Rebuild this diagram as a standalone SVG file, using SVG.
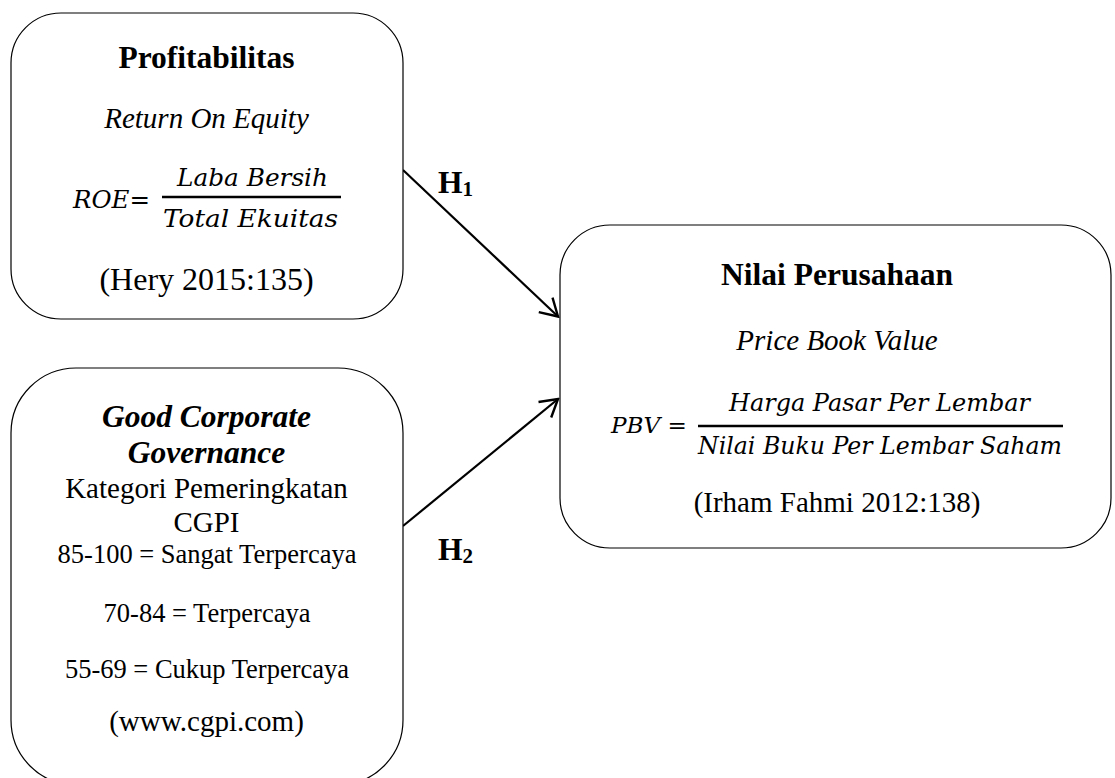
<svg xmlns="http://www.w3.org/2000/svg" width="1115" height="778" viewBox="0 0 1115 778">
<style>
.box{fill:#fff;stroke:#000;stroke-width:1.2}
.t{font-family:"Liberation Serif","Times New Roman",serif;fill:#000;text-anchor:middle}
.b{font-weight:bold;font-size:31.5px}
.i{font-style:italic;font-size:29px}
.r{font-size:29px}
.s{font-size:26.5px}
.m{font-family:"DejaVu Serif",serif;font-style:italic;fill:#000}
.frac{stroke:#000;stroke-width:2.6}
.conn{stroke:#000;stroke-width:2.2;fill:none}
.h{font-family:"Liberation Serif","Times New Roman",serif;font-weight:bold;fill:#000}
</style>
<defs>
<marker id="arr" markerUnits="userSpaceOnUse" viewBox="-20 -12 22 24" refX="0" refY="0" markerWidth="22" markerHeight="24" orient="auto">
<path d="M-17,-10 L0,0 L-17,10" fill="none" stroke="#000" stroke-width="2.4"/>
</marker>
</defs>
<g id="connectors">
<line class="conn" x1="403" y1="170" x2="558" y2="316.5" marker-end="url(#arr)"/>
<line class="conn" x1="403" y1="526" x2="558" y2="399" marker-end="url(#arr)"/>
<text class="h" x="438" y="193" font-size="31.5">H<tspan font-size="21" dy="3">1</tspan></text>
<text class="h" x="438" y="560" font-size="31.5">H<tspan font-size="21" dy="3">2</tspan></text>
</g>
<g id="profitabilitas">
<rect class="box" x="11" y="13" width="392" height="306" rx="50" ry="50"/>
<text class="t b" x="206.5" y="68">Profitabilitas</text>
<text class="t i" x="206.5" y="128">Return On Equity</text>
<text class="m" x="73" y="208" font-size="24" textLength="77" lengthAdjust="spacingAndGlyphs">ROE<tspan font-style="normal">=</tspan></text>
<text class="m" x="177" y="186" font-size="24" textLength="151" lengthAdjust="spacingAndGlyphs">Laba Bersih</text>
<line class="frac" x1="162" y1="197" x2="341" y2="197"/>
<text class="m" x="163" y="227" font-size="24" textLength="175" lengthAdjust="spacingAndGlyphs">Total Ekuitas</text>
<text class="t" x="206.5" y="290" font-size="32">(Hery 2015:135)</text>
</g>
<g id="gcg">
<rect class="box" x="11" y="368" width="392" height="417" rx="65" ry="65"/>
<text class="t b" x="206.5" y="427" font-style="italic">Good Corporate</text>
<text class="t b" x="206.5" y="463" font-style="italic">Governance</text>
<text class="t r" x="206.5" y="498">Kategori Pemeringkatan</text>
<text class="t r" x="206.5" y="532">CGPI</text>
<text class="t s" x="207" y="563">85-100 = Sangat Terpercaya</text>
<text class="t s" x="207" y="622">70-84 = Terpercaya</text>
<text class="t s" x="207" y="678">55-69 = Cukup Terpercaya</text>
<text class="t r" x="206.5" y="731">(www.cgpi.com)</text>
</g>
<g id="nilai">
<rect class="box" x="560" y="225" width="551" height="323" rx="50" ry="50"/>
<text class="t b" x="837" y="285">Nilai Perusahaan</text>
<text class="t i" x="837" y="350">Price Book Value</text>
<text class="m" x="611" y="433" font-size="23" textLength="76" lengthAdjust="spacingAndGlyphs">PBV <tspan font-style="normal">=</tspan></text>
<text class="m" x="729" y="411" font-size="25" textLength="301" lengthAdjust="spacingAndGlyphs">Harga Pasar Per Lembar</text>
<line class="frac" x1="698" y1="426" x2="1063" y2="426"/>
<text class="m" x="698" y="454" font-size="24" textLength="364" lengthAdjust="spacingAndGlyphs">Nilai Buku Per Lembar Saham</text>
<text class="t r" x="837" y="512">(Irham Fahmi 2012:138)</text>
</g>
</svg>
